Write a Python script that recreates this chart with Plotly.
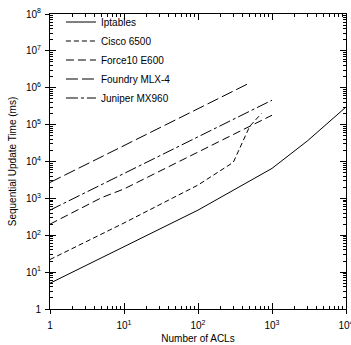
import plotly.graph_objects as go

# ---- data ----
ipt_x = [1, 10, 100, 1000, 3000, 10000]
ipt_y = [5, 50, 480, 6500, 36000, 300000]

cisco_x = [1, 5, 10, 100, 300, 500, 720]
cisco_y = [22, 105, 215, 2300, 9500, 90000, 200000]

force_x = [1, 5, 10, 1000]
force_y = [200, 1050, 1800, 180000]

foundry_x = [1, 10, 100, 500]
foundry_y = [2700, 27000, 270000, 1350000]

juniper_x = [1, 10, 100, 1000]
juniper_y = [480, 4700, 46000, 460000]

series_names = ["Iptables", "Cisco 6500", "Force10 E600", "Foundry MLX-4", "Juniper MX960"]

x_tickvals = [1, 10, 100, 1000, 10000]
x_ticktext = ["1", "10<sup>1</sup>", "10<sup>2</sup>", "10<sup>3</sup>", "10<sup>4</sup>"]
y_tickvals = [1, 10, 100, 1e3, 1e4, 1e5, 1e6, 1e7, 1e8]
y_ticktext = ["1"] + [f"10<sup>{i}</sup>" for i in range(1, 9)]

FONT = "Liberation Sans, Arial, sans-serif"

dashes = ["solid", "5px,3px", "8px,4px", "12px,4px", "12px,3px,3px,3px"]
xs = [ipt_x, cisco_x, force_x, foundry_x, juniper_x]
ys = [ipt_y, cisco_y, force_y, foundry_y, juniper_y]

fig = go.Figure()
for name, x, y, d in zip(series_names, xs, ys, dashes):
    fig.add_trace(go.Scatter(x=x, y=y, mode="lines", name=name,
                             line=dict(color="black", width=1, dash=d)))

common_axis = dict(
    type="log", showline=True, linecolor="black", linewidth=1,
    ticks="inside", ticklen=6, tickcolor="black", tickwidth=1,
    mirror="allticks", showgrid=False, zeroline=False,
    minor=dict(ticks="inside", ticklen=3, tickcolor="black", dtick="D1", showgrid=False),
    tickfont=dict(family=FONT, size=10, color="black"),
    ticklabeloverflow="allow", automargin=False,
)

fig.update_layout(
    width=351, height=345,
    margin=dict(l=50, r=5, t=14, b=36),
    paper_bgcolor="white", plot_bgcolor="white",
    font=dict(family=FONT, size=10, color="black"),
    xaxis=dict(common_axis, range=[0, 4], tickvals=x_tickvals, ticktext=x_ticktext,
               title=dict(text="Number of ACLs", font=dict(family=FONT, size=10), standoff=4),
               ticklabelstandoff=7),
    yaxis=dict(common_axis, range=[0, 8], tickvals=y_tickvals, ticktext=y_ticktext,
               title=dict(text="Sequential Update Time (ms)", font=dict(family=FONT, size=10), standoff=7),
               ticklabelstandoff=6),
    xaxis2=dict(type="log", overlaying="x", anchor="y", side="bottom", range=[0, 4],
                tickvals=x_tickvals, showticklabels=False, ticks="outside", ticklen=4,
                tickcolor="black", showline=False, showgrid=False, zeroline=False,
                automargin=False),
    yaxis2=dict(type="log", overlaying="y", anchor="x", side="left", range=[0, 8],
                tickvals=y_tickvals, showticklabels=False, ticks="outside", ticklen=4,
                tickcolor="black", showline=False, showgrid=False, zeroline=False,
                automargin=False),
    legend=dict(x=0.037, y=1.022, xanchor="left", yanchor="top",
                bgcolor="rgba(0,0,0,0)", font=dict(family=FONT, size=10),
                itemwidth=30),
    showlegend=True,
)

# invisible helper trace so the overlay axes are drawn
fig.add_trace(go.Scatter(x=[1], y=[1], xaxis="x2", yaxis="y2", mode="markers",
                         marker=dict(opacity=0), showlegend=False, hoverinfo="skip"))

fig.write_html("out.html", config={"displayModeBar": False},
               post_script="document.body.style.margin='0px';")
